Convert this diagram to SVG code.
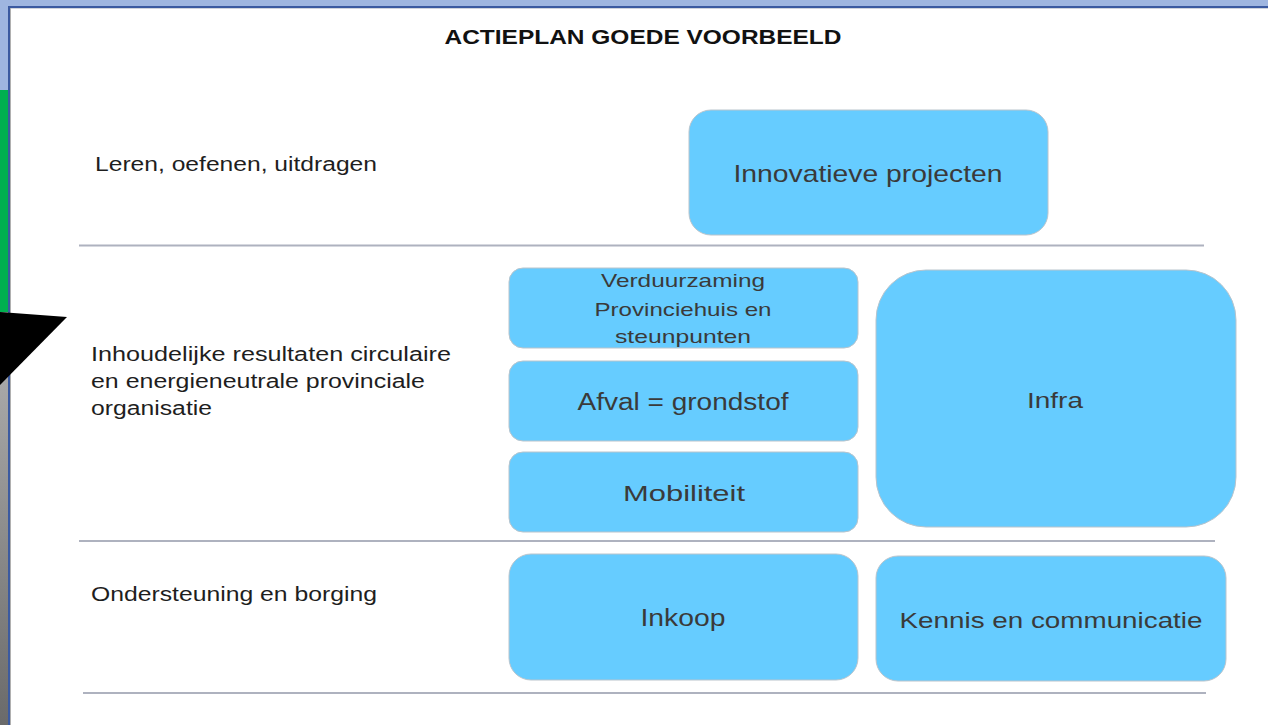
<svg xmlns="http://www.w3.org/2000/svg" width="1268" height="725" viewBox="0 0 1268 725">
<defs>
<linearGradient id="gray" x1="0" y1="0" x2="0" y2="1">
<stop offset="0" stop-color="#b4b4b4"/>
<stop offset="1" stop-color="#6a6a6a"/>
</linearGradient>
</defs>
<style>
.box{fill:#66ccff;stroke:#b9c4cc;stroke-width:1}
.bt{font-family:"Liberation Sans",Arial,sans-serif;fill:#3a3a3a;text-anchor:middle}
.lt{font-family:"Liberation Sans",Arial,sans-serif;fill:#1e1e1e;font-size:20px}
.sep{stroke:#aeb2bf;stroke-width:2}
</style>
<rect x="0" y="0" width="1268" height="725" fill="#ffffff"/>
<g id="frame">
<rect x="0" y="0" width="1268" height="6" fill="#9fb6e0"/>
<rect x="0" y="0" width="9" height="725" fill="#9fb6e0"/>
<rect x="0" y="90" width="9" height="225" fill="#00b050"/>
<rect x="0" y="312" width="9" height="413" fill="url(#gray)"/>
<rect x="9" y="6" width="1259" height="2" fill="#3b5aa0"/>
<rect x="8" y="6" width="2" height="719" fill="#3b5aa0"/>
<rect x="10" y="8" width="1258" height="1" fill="#d0d4dc"/>
<rect x="10" y="8" width="1" height="717" fill="#b0b0b0"/>
<polygon points="0,312 67,317 0,385" fill="#000000"/>
</g>
<g id="title">
<text x="643" y="44" font-family="Liberation Sans,Arial,sans-serif" font-weight="bold" font-size="21" fill="#111" text-anchor="middle" textLength="397" lengthAdjust="spacingAndGlyphs">ACTIEPLAN GOEDE VOORBEELD</text>
</g>
<g id="separators">
<line class="sep" x1="79" y1="245.5" x2="1204" y2="245.5"/>
<line class="sep" x1="79" y1="541" x2="1215" y2="541"/>
<line class="sep" x1="83" y1="693" x2="1206" y2="693"/>
</g>
<g id="row-labels">
<text class="lt" x="95" y="171" textLength="282" lengthAdjust="spacingAndGlyphs">Leren, oefenen,  uitdragen</text>
<text class="lt" x="91" y="361" textLength="360" lengthAdjust="spacingAndGlyphs">Inhoudelijke resultaten circulaire</text>
<text class="lt" x="91" y="388" textLength="334" lengthAdjust="spacingAndGlyphs">en energieneutrale provinciale</text>
<text class="lt" x="91" y="415" textLength="121" lengthAdjust="spacingAndGlyphs">organisatie</text>
<text class="lt" x="91" y="601" textLength="286" lengthAdjust="spacingAndGlyphs">Ondersteuning en borging</text>
</g>
<g id="innovatieve">
<rect class="box" x="689" y="110" width="359" height="125" rx="22"/>
<text class="bt" x="868" y="182" font-size="24" textLength="269" lengthAdjust="spacingAndGlyphs">Innovatieve projecten</text>
</g>
<g id="verduurzaming">
<rect class="box" x="509" y="268" width="349" height="80" rx="14"/>
<text class="bt" x="683" y="287" font-size="19" textLength="164" lengthAdjust="spacingAndGlyphs">Verduurzaming</text>
<text class="bt" x="683" y="316" font-size="19" textLength="177" lengthAdjust="spacingAndGlyphs">Provinciehuis en</text>
<text class="bt" x="683" y="343" font-size="19" textLength="136" lengthAdjust="spacingAndGlyphs">steunpunten</text>
</g>
<g id="afval">
<rect class="box" x="509" y="361" width="349" height="80" rx="14"/>
<text class="bt" x="683" y="410" font-size="23" textLength="211" lengthAdjust="spacingAndGlyphs">Afval = grondstof</text>
</g>
<g id="mobiliteit">
<rect class="box" x="509" y="452" width="349" height="80" rx="14"/>
<text class="bt" x="684" y="501" font-size="22" textLength="122" lengthAdjust="spacingAndGlyphs">Mobiliteit</text>
</g>
<g id="infra">
<rect class="box" x="876" y="270" width="360" height="257" rx="50"/>
<text class="bt" x="1055" y="408" font-size="22" textLength="56" lengthAdjust="spacingAndGlyphs">Infra</text>
</g>
<g id="inkoop">
<rect class="box" x="509" y="554" width="349" height="126" rx="22"/>
<text class="bt" x="683" y="626" font-size="23" textLength="85" lengthAdjust="spacingAndGlyphs">Inkoop</text>
</g>
<g id="kennis">
<rect class="box" x="876" y="556" width="350" height="125" rx="22"/>
<text class="bt" x="1051" y="628" font-size="22" textLength="303" lengthAdjust="spacingAndGlyphs">Kennis en communicatie</text>
</g>
<g id="connectors"></g>
</svg>
